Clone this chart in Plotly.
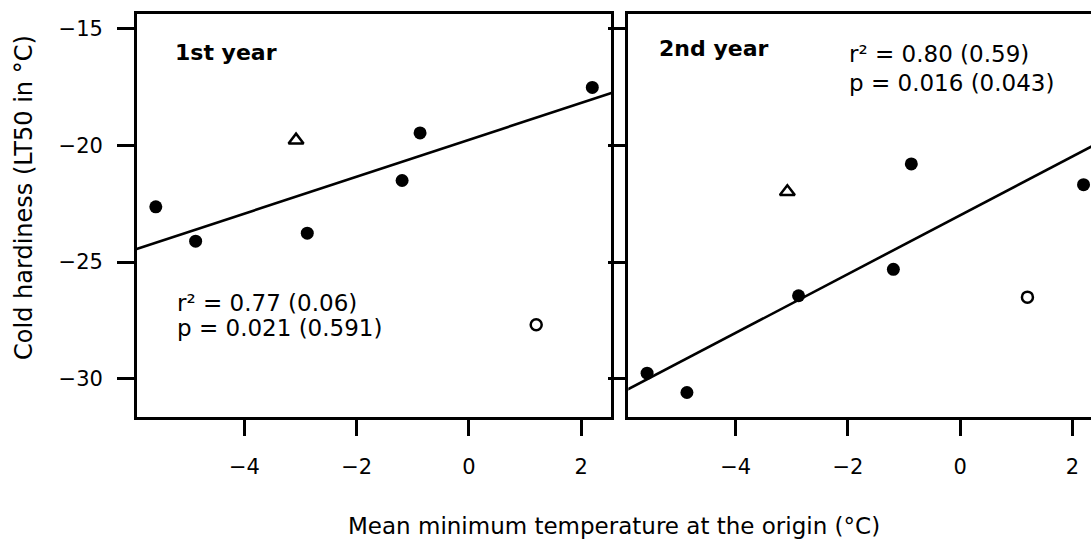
import numpy as np
import plotly.graph_objects as go

# ---- data ----
x_filled = [-5.58, -4.87, -2.88, -1.19, -0.87, 2.20]
x_triangle = [-3.08]
x_open = [1.20]

y1_filled = [-22.63, -24.10, -23.76, -21.50, -19.46, -17.51]
y1_triangle = [-19.77]
y1_open = [-27.68]

y2_filled = [-29.76, -30.59, -26.44, -25.31, -20.79, -21.68]
y2_triangle = [-21.98]
y2_open = [-26.50]

x_ticks = [-4, -2, 0, 2]
x_ticktext = ["\u22124", "\u22122", "0", "2"]
y_ticks = [-30, -25, -20, -15]
y_ticktext = ["\u221230", "\u221225", "\u221220", "\u221215"]

panel_titles = ["1st year", "2nd year"]
stats1 = ["r\u00b2 = 0.77 (0.06)", "p = 0.021 (0.591)"]
stats2 = ["r\u00b2 = 0.80 (0.59)", "p = 0.016 (0.043)"]

x_title = "Mean minimum temperature at the origin (\u00b0C)"
y_title = "Cold hardiness (LT50 in \u00b0C)"

FONT = "DejaVu Sans"
BLACK = "#000000"
LW = 2.8

fig = go.Figure()

def add_panel(yf, yt, yo, xa, ya):
    # regression line of filled points, drawn across the whole panel (abline)
    b, a = np.polyfit(np.array(x_filled), np.array(yf), 1)
    xl = np.array([-7.0, 4.0])
    fig.add_trace(go.Scatter(x=xl, y=a + b * xl, mode="lines",
                             line=dict(color=BLACK, width=2.6),
                             xaxis=xa, yaxis=ya, showlegend=False, hoverinfo="skip"))
    fig.add_trace(go.Scatter(x=x_filled, y=yf, mode="markers",
                             marker=dict(symbol="circle", size=13, color=BLACK),
                             xaxis=xa, yaxis=ya, showlegend=False))
    fig.add_trace(go.Scatter(x=x_triangle, y=yt, mode="markers",
                             marker=dict(symbol="triangle-up-open", size=13, color=BLACK,
                                         line=dict(width=2.5, color=BLACK)),
                             xaxis=xa, yaxis=ya, showlegend=False))
    fig.add_trace(go.Scatter(x=x_open, y=yo, mode="markers",
                             marker=dict(symbol="circle-open", size=11, color=BLACK,
                                         line=dict(width=2.5, color=BLACK)),
                             xaxis=xa, yaxis=ya, showlegend=False))

add_panel(y1_filled, y1_triangle, y1_open, "x", "y")
add_panel(y2_filled, y2_triangle, y2_open, "x2", "y2")

xcommon = dict(tickvals=x_ticks, ticktext=x_ticktext, ticks="outside", ticklen=16,
               tickwidth=LW, tickcolor=BLACK, showline=True, linewidth=LW,
               linecolor=BLACK, mirror=True, showgrid=False, zeroline=False,
               tickfont=dict(family=FONT, size=21, color=BLACK),
               ticklabelstandoff=13)

fig.update_layout(
    width=1091, height=541,
    margin=dict(l=137, r=0, t=14, b=124),
    paper_bgcolor="white", plot_bgcolor="white",
    font=dict(family=FONT, color=BLACK),
    xaxis=dict(domain=[0, 0.4969], range=[-5.915, 2.534], anchor="y", **xcommon),
    xaxis2=dict(domain=[0.515, 1.0], range=[-5.915, 2.333], anchor="y2", **xcommon),
    yaxis=dict(range=[-31.64, -14.36], tickvals=y_ticks, ticktext=y_ticktext,
               ticks="outside", ticklen=17, tickwidth=LW, tickcolor=BLACK,
               showline=True, linewidth=LW, linecolor=BLACK, mirror=True,
               showgrid=False, zeroline=False, anchor="x",
               tickfont=dict(family=FONT, size=21, color=BLACK),
               ticklabelstandoff=10),
    yaxis2=dict(range=[-31.64, -14.36], tickvals=y_ticks, ticks="outside",
                ticklen=17, tickwidth=LW, tickcolor=BLACK, showticklabels=False,
                showline=True, linewidth=LW, linecolor=BLACK, mirror=False,
                showgrid=False, zeroline=False, anchor="x2"),
)

ann = []
ann.append(dict(text="<b>%s</b>" % panel_titles[0], x=-5.279, y=-16.03, xref="x", yref="y",
                xanchor="left", yanchor="middle", showarrow=False,
                font=dict(family=FONT, size=22, color=BLACK)))
ann.append(dict(text="<b>%s</b>" % panel_titles[1], x=-5.409, y=-15.86, xref="x2", yref="y2",
                xanchor="left", yanchor="middle", showarrow=False,
                font=dict(family=FONT, size=22, color=BLACK)))
for txt, yy in zip(stats1, [-26.75, -27.83]):
    ann.append(dict(text=txt, x=-5.238, y=yy, xref="x", yref="y", xanchor="left",
                    yanchor="middle", showarrow=False,
                    font=dict(family=FONT, size=23, color=BLACK)))
for txt, yy in zip(stats2, [-16.075, -17.30]):
    ann.append(dict(text=txt, x=-2.022, y=yy, xref="x2", yref="y2", xanchor="left",
                    yanchor="middle", showarrow=False,
                    font=dict(family=FONT, size=23, color=BLACK)))
ann.append(dict(text=x_title, x=0.4995, y=-0.2705, xref="paper", yref="paper",
                xanchor="center", yanchor="middle", showarrow=False,
                font=dict(family=FONT, size=23, color=BLACK)))
ann.append(dict(text=y_title, x=-0.1185, y=0.546, xref="paper", yref="paper",
                xanchor="center", yanchor="middle", showarrow=False, textangle=-90,
                font=dict(family=FONT, size=24, color=BLACK)))
fig.update_layout(annotations=ann)

fig.write_html("out.html", config={"displayModeBar": False},
               post_script="document.body.style.margin='0px';document.body.style.overflow='hidden';")
